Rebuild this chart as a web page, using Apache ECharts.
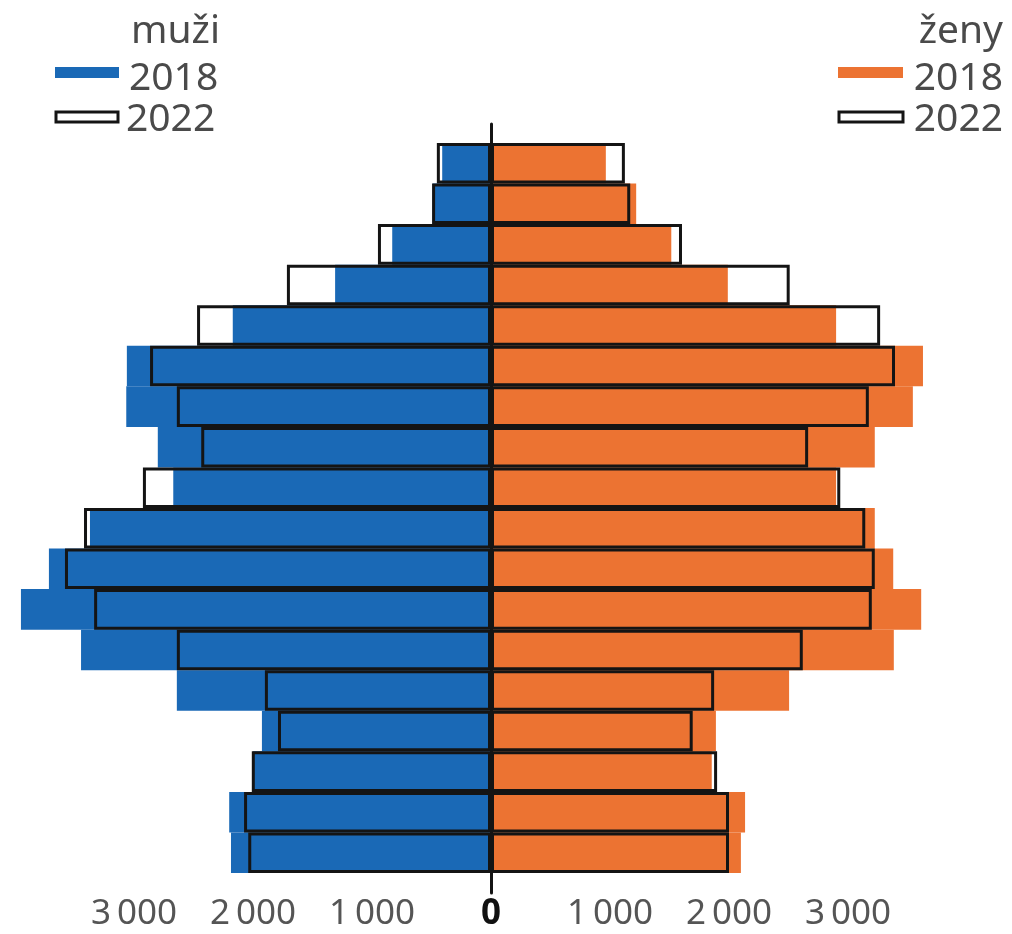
<!DOCTYPE html>
<html>
<head>
<meta charset="utf-8">
<script src="https://cdn.jsdelivr.net/npm/echarts@6/dist/echarts.min.js"></script>
<style>
html,body{margin:0;padding:0;background:#fff;}
#chart{width:1012px;height:934px;}
</style>
</head>
<body>
<div id="chart"></div>
<script>
// Age groups, bottom (youngest) to top (oldest)
const ageGroups = ['0–4','5–9','10–14','15–19','20–24','25–29','30–34','35–39','40–44','45–49','50–54','55–59','60–64','65–69','70–74','75–79','80–84','85+'];
// Men (muži)
const men2018 = [2185, 2200, 2000, 1925, 2640, 3445, 3950, 3715, 3370, 2670, 2800, 3065, 3060, 2170, 1310, 830, 490, 410];
const men2022 = [2040, 2075, 2010, 1790, 1900, 2640, 3335, 3580, 3420, 2925, 2435, 2640, 2865, 2470, 1715, 950, 495, 455];
// Women (ženy)
const women2018 = [2100, 2135, 1855, 1890, 2505, 3385, 3615, 3380, 3225, 2900, 3225, 3545, 3630, 2900, 1990, 1515, 1220, 965];
const women2022 = [2000, 2000, 1900, 1695, 1875, 2620, 3200, 3225, 3145, 2935, 2665, 3175, 3395, 3270, 2510, 1605, 1170, 1125];
// Axis ticks
const tickValues = [-3000, -2000, -1000, 0, 1000, 2000, 3000];
const tickLabels = ['3\u2009000', '2\u2009000', '1\u2009000', '0', '1\u2009000', '2\u2009000', '3\u2009000'];
// Legend texts
const legendMen = ['muži', '2018', '2022'];
const legendWomen = ['ženy', '2018', '2022'];

const BLUE = '#1a69b6';
const ORANGE = '#ec7332';
const OUTLINE = '#141414';
const TEXT = '#4a4a4a';
const FONT = '"Noto Sans", "DejaVu Sans", sans-serif';

const chart = echarts.init(document.getElementById('chart'), null, {renderer: 'canvas'});

const neg = arr => arr.map(v => -v);

const outlineStyle = {color: 'rgba(0,0,0,0)', borderColor: OUTLINE, borderWidth: 3};

function legendBlock(x0, textX, titles, fillColor) {
  return [
    {type: 'text', left: textX, top: 0, style: {x: 0, y: 0, text: titles[0], font: '39px ' + FONT, fill: TEXT}, position: [textX, 4]},
    {type: 'rect', shape: {x: x0, y: 67, width: 64, height: 11}, style: {fill: fillColor}},
    {type: 'text', style: {x: textX, y: 79, text: titles[1], font: '39px ' + FONT, fill: TEXT, verticalAlign: 'middle'}},
    {type: 'rect', shape: {x: x0 + 1, y: 112, width: 63, height: 10}, style: {fill: '#fff', stroke: OUTLINE, lineWidth: 3}},
    {type: 'text', style: {x: textX, y: 120, text: titles[2], font: '39px ' + FONT, fill: TEXT, verticalAlign: 'middle'}}
  ];
}

function legendGraphics() {
  const g = [];
  // men legend
  g.push({type: 'text', style: {x: 131, y: 32, text: legendMen[0], font: '39px ' + FONT, fill: TEXT, verticalAlign: 'middle'}});
  g.push({type: 'rect', shape: {x: 55, y: 67, width: 64, height: 11}, style: {fill: BLUE}});
  g.push({type: 'text', style: {x: 129, y: 79, text: legendMen[1], font: '39px ' + FONT, fill: TEXT, verticalAlign: 'middle'}});
  g.push({type: 'rect', shape: {x: 56, y: 112, width: 62, height: 10}, style: {fill: '#fff', stroke: OUTLINE, lineWidth: 3}});
  g.push({type: 'text', style: {x: 126, y: 120, text: legendMen[2], font: '39px ' + FONT, fill: TEXT, verticalAlign: 'middle'}});
  // women legend
  g.push({type: 'text', style: {x: 1003, y: 32, text: legendWomen[0], font: '39px ' + FONT, fill: TEXT, verticalAlign: 'middle', align: 'right'}});
  g.push({type: 'rect', shape: {x: 838, y: 67, width: 65, height: 11}, style: {fill: ORANGE}});
  g.push({type: 'text', style: {x: 1003, y: 79, text: legendWomen[1], font: '39px ' + FONT, fill: TEXT, verticalAlign: 'middle', align: 'right'}});
  g.push({type: 'rect', shape: {x: 839, y: 112, width: 64, height: 10}, style: {fill: '#fff', stroke: OUTLINE, lineWidth: 3}});
  g.push({type: 'text', style: {x: 1003, y: 120, text: legendWomen[2], font: '39px ' + FONT, fill: TEXT, verticalAlign: 'middle', align: 'right'}});
  return g;
}

const option = {
  backgroundColor: '#fff',
  animation: false,
  textStyle: {fontFamily: FONT},
  graphic: legendGraphics(),
  grid: [
    {left: 15, right: 45, top: 143, bottom: 61},
    {left: 15, right: 45, top: 124, bottom: 41}
  ],
  xAxis: [
    {
      type: 'value', gridIndex: 0, min: -4000, max: 4000, interval: 1000,
      axisLine: {show: false}, axisTick: {show: false}, splitLine: {show: false},
      axisLabel: {
        margin: 24, fontSize: 35, color: '#555', fontFamily: FONT,
        formatter: function (v) {
          const i = tickValues.indexOf(v);
          if (i < 0) return '';
          return v === 0 ? '{z|' + tickLabels[i] + '}' : tickLabels[i];
        },
        rich: {z: {fontSize: 35, fontWeight: 'bold', color: '#111', fontFamily: FONT}}
      }
    },
    {type: 'value', gridIndex: 1, min: -4000, max: 4000, show: false}
  ],
  yAxis: [
    {
      type: 'category', gridIndex: 0, data: ageGroups,
      axisLine: {show: false}, axisTick: {show: false}, axisLabel: {show: false}, splitLine: {show: false}
    },
    {
      type: 'value', gridIndex: 1, min: 0, max: 1, z: 10,
      axisLine: {show: true, onZero: true, lineStyle: {color: OUTLINE, width: 3}},
      axisTick: {show: false}, axisLabel: {show: false}, splitLine: {show: false}
    }
  ],
  series: [
    {name: 'muži 2018', type: 'bar', xAxisIndex: 0, yAxisIndex: 0, data: neg(men2018),
     barGap: '-100%', barCategoryGap: '0%', itemStyle: {color: BLUE}, z: 2},
    {name: 'ženy 2018', type: 'bar', xAxisIndex: 0, yAxisIndex: 0, data: women2018,
     barGap: '-100%', barCategoryGap: '0%', itemStyle: {color: ORANGE}, z: 2},
    {name: 'muži 2022', type: 'bar', xAxisIndex: 0, yAxisIndex: 0, data: neg(men2022),
     barGap: '-100%', barCategoryGap: '0%', itemStyle: outlineStyle, z: 3},
    {name: 'ženy 2022', type: 'bar', xAxisIndex: 0, yAxisIndex: 0, data: women2022,
     barGap: '-100%', barCategoryGap: '0%', itemStyle: outlineStyle, z: 3}
  ]
};

chart.setOption(option);
</script>
</body>
</html>
